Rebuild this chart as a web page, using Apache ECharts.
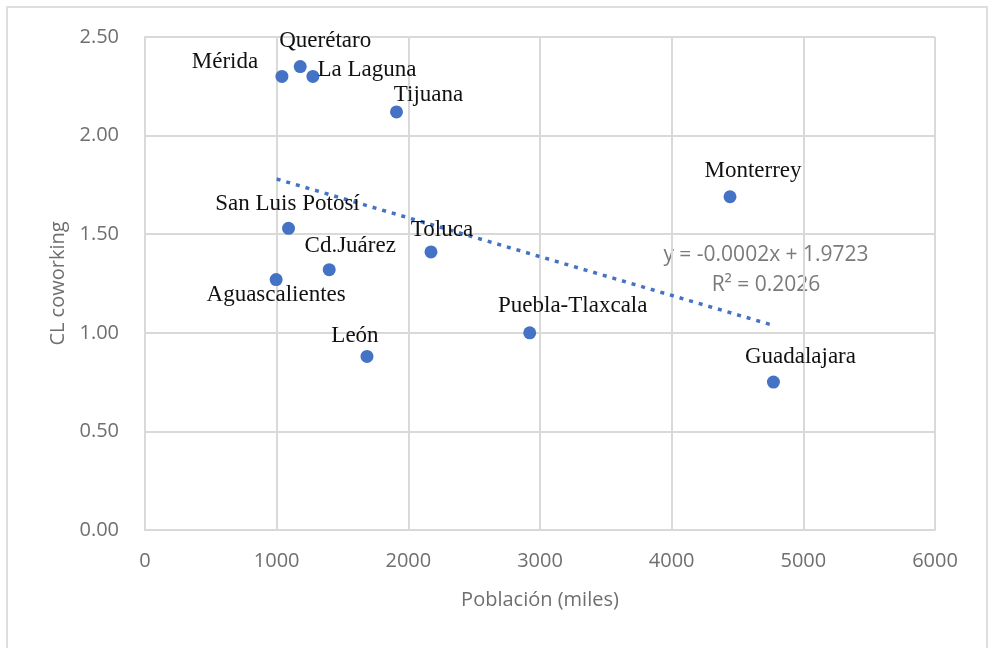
<!DOCTYPE html>
<html>
<head>
<meta charset="utf-8">
<script src="https://cdn.jsdelivr.net/npm/echarts@6/dist/echarts.min.js"></script>
<style>
  html, body { margin: 0; padding: 0; background: #fff; }
  #chart { width: 989px; height: 648px; }
</style>
</head>
<body>
<div id="chart"></div>
<script>
// ciudades y valores
var cities = ['Mérida', 'Querétaro', 'La Laguna', 'Tijuana', 'Monterrey', 'San Luis Potosí',
  'Toluca', 'Cd.Juárez', 'Aguascalientes', 'León', 'Puebla-Tlaxcala', 'Guadalajara']
var poblacion = [1040, 1179, 1275, 1910, 4443, 1090, 2172, 1399, 996, 1686, 2922, 4773]
var clCoworking = [2.30, 2.35, 2.30, 2.12, 1.69, 1.53, 1.41, 1.32, 1.27, 0.88, 1.00, 0.75]
// línea de tendencia (extremos)
var trendX = [1000, 4760]
var trendY = [1.78, 1.04]
var xTicks = [0, 1000, 2000, 3000, 4000, 5000, 6000]
var yTicks = [0, 0.5, 1, 1.5, 2, 2.5]

// desplazamiento de las etiquetas respecto al punto (px)
var labelOffsets = [[-57, -14], [25, -26], [54, -6], [32, -17], [23, -26], [-1, -24],
  [11, -22], [21, -24], [0, 15], [-12, -21], [43, -27], [27, -25]]

var gray = '#6f6f6f'
var gridColor = '#d9d9d9'

var points = cities.map(function (c, i) {
  return {
    name: c,
    value: [poblacion[i], clCoworking[i]],
    label: { offset: labelOffsets[i] }
  }
})

var myChart = echarts.init(document.getElementById('chart'))
var option = {
  animation: false,
  backgroundColor: '#fff',
  grid: { left: 145, right: 54, top: 37, bottom: 118 },
  xAxis: {
    type: 'value',
    min: xTicks[0],
    max: xTicks[xTicks.length - 1],
    interval: 1000,
    name: 'Población (miles)',
    nameLocation: 'middle',
    nameGap: 60,
    nameTextStyle: { fontFamily: 'Open Sans', fontSize: 20, color: gray },
    axisLine: { show: true, lineStyle: { color: gridColor, width: 2 } },
    axisTick: { show: false },
    axisLabel: {
      fontFamily: 'Open Sans', fontSize: 20, color: gray, margin: 21,
      formatter: function (v) { return String(v) }
    },
    splitLine: { lineStyle: { color: gridColor, width: 2 } }
  },
  yAxis: {
    type: 'value',
    min: yTicks[0],
    max: yTicks[yTicks.length - 1],
    interval: 0.5,
    name: 'CL coworking',
    nameLocation: 'middle',
    nameGap: 72,
    nameTextStyle: { fontFamily: 'Open Sans', fontSize: 20, color: gray },
    axisLine: { show: true, lineStyle: { color: gridColor, width: 2 } },
    axisTick: { show: false },
    axisLabel: {
      fontFamily: 'Open Sans', fontSize: 20, color: gray, margin: 26,
      formatter: function (v) { return v.toFixed(2) }
    },
    splitLine: { lineStyle: { color: gridColor, width: 2 } }
  },
  series: [
    {
      type: 'line',
      data: trendX.map(function (x, i) { return [x, trendY[i]] }),
      symbol: 'none',
      silent: true,
      lineStyle: { color: '#4472c4', width: 3.5, type: [4, 6] },
      z: 1
    },
    {
      type: 'scatter',
      data: points,
      symbol: 'circle',
      symbolSize: 13,
      itemStyle: { color: '#4472c4', opacity: 1 },
      label: {
        show: true,
        position: 'inside',
        formatter: '{b}',
        fontFamily: 'Liberation Serif',
        fontSize: 23,
        color: '#111'
      },
      z: 3
    }
  ],
  graphic: [
    {
      type: 'rect',
      shape: { x: 7, y: 7, width: 980, height: 700 },
      style: { fill: 'none', stroke: '#dedede', lineWidth: 2 },
      silent: true
    },
    {
      type: 'text',
      x: 766, y: 255,
      style: {
        text: 'y = -0.0002x + 1.9723',
        font: '21px "Open Sans"',
        fill: '#7a7a7a',
        align: 'center',
        verticalAlign: 'middle'
      }
    },
    {
      type: 'text',
      x: 766, y: 285,
      style: {
        text: 'R² = 0.2026',
        font: '21px "Open Sans"',
        fill: '#7a7a7a',
        align: 'center',
        verticalAlign: 'middle'
      }
    }
  ]
}
myChart.setOption(option)
</script>
</body>
</html>
